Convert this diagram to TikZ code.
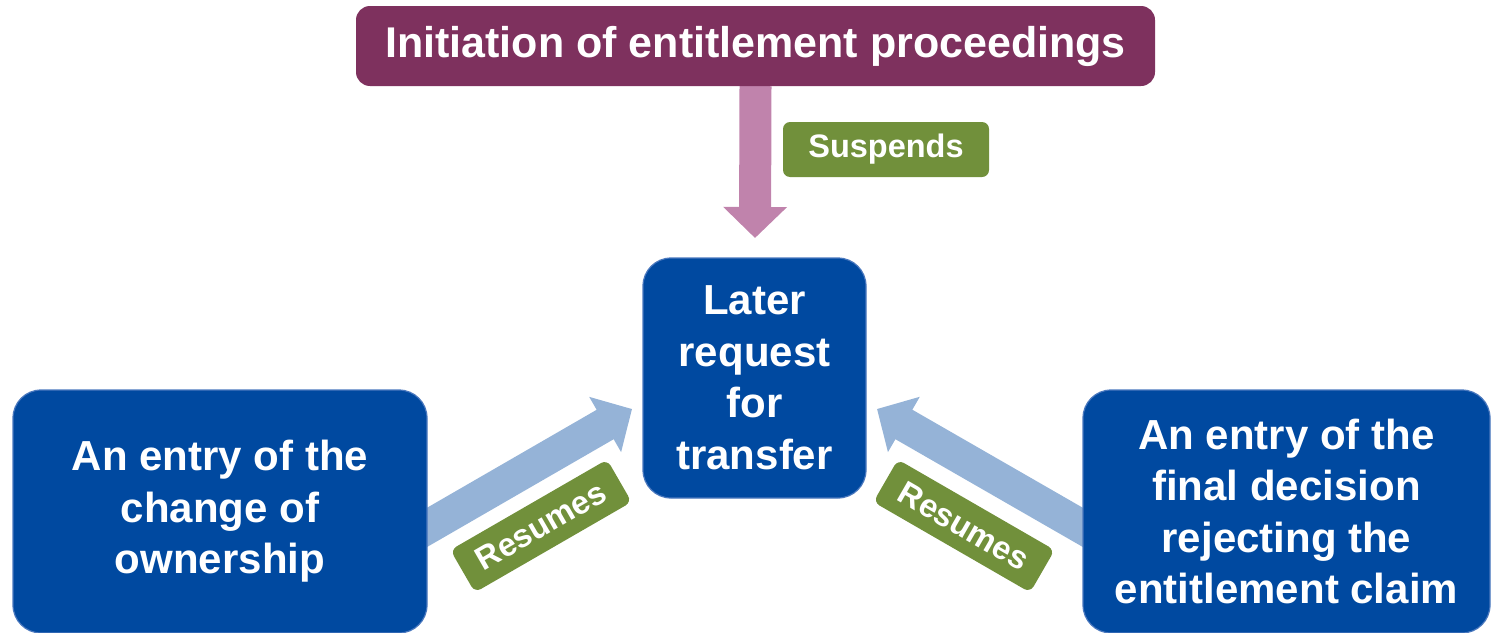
\documentclass[tikz,border=0pt]{standalone}
\usepackage{fontspec}
\setmainfont{Liberation Sans}
\usetikzlibrary{arrows.meta,backgrounds}
\definecolor{plumTop}{HTML}{7E315E}
\definecolor{mauveArrow}{HTML}{C083AC}
\definecolor{boxBlue}{HTML}{0049A0}
\definecolor{boxRim}{HTML}{4A78BE}
\definecolor{skyArrow}{HTML}{95B3D7}
\definecolor{tagGreen}{HTML}{71903B}
\begin{document}
\begin{tikzpicture}[x=1pt,y=-1pt,
	bluebox/.style={draw=boxRim,line width=1.2pt,fill=boxBlue,rounded corners=28pt,text=white,align=center,inner sep=0pt,font=\bfseries\fontsize{42}{51.5}\selectfont},
	tagbox/.style={fill=tagGreen,rounded corners=7pt,text=white,inner sep=0pt,font=\bfseries\fontsize{32.5}{38}\selectfont},
	fat/.style={line width=#1,-{Triangle[width=62pt,length=31pt]}}]
	\useasboundingbox (0,0) rectangle (1491,632);
	\node (init) [fill=plumTop,rounded corners=14pt,text=white,minimum width=799pt,minimum height=80pt,inner sep=0pt,font=\bfseries\fontsize{43}{51}\selectfont] at (755.5,46) {Initiation of entitlement proceedings};
	\node (later) [bluebox,minimum width=223pt,minimum height=240pt] at (754.5,378) {\rule{0pt}{3pt}Later\\request\\for\\transfer};
	\node (owner) [bluebox,minimum width=414pt,minimum height=243pt] at (220,511.5) {\rule{0pt}{8pt}An entry of the\\change of\\ownership};
	\node (reject) [bluebox,minimum width=407pt,minimum height=243pt] at (1286.5,511.5) {An entry of the\\final decision\\rejecting the\\entitlement claim};
	\node (susp) [tagbox,minimum width=206pt,minimum height=55pt] at (886,149.5) {Suspends};
	\node (lres) [tagbox,minimum width=181pt,minimum height=49pt,rotate=30] at (541,526) {Resumes};
	\node (rres) [tagbox,minimum width=181pt,minimum height=49pt,rotate=-30] at (964,526) {Resumes};
	% arrow ends
	\coordinate (dtip) at (755,238);
	\coordinate (lstart) at (400,543);
	\coordinate (ltip) at (632,409);
	\coordinate (rstart) at (1110,543);
	\coordinate (rtip) at (877,409);
	\begin{scope}[on background layer]
	\draw [fat=32pt,mauveArrow] (init.south) -- (dtip);
	\draw [fat=34pt,skyArrow] (lstart) -- (ltip);
	\draw [fat=34pt,skyArrow] (rstart) -- (rtip);
	\end{scope}
\end{tikzpicture}
\end{document}
